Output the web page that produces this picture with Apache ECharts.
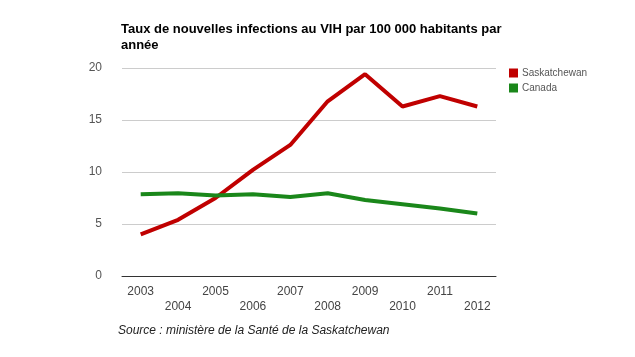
<!DOCTYPE html>
<html>
<head>
<meta charset="utf-8">
<script src="https://cdn.jsdelivr.net/npm/echarts@6/dist/echarts.min.js"></script>
<style>html,body{margin:0;padding:0;background:#fff;}#c{width:635px;height:357px;}</style>
</head>
<body>
<div id="c"></div>
<script>
const years = ['2003','2004','2005','2006','2007','2008','2009','2010','2011','2012'];
const saskatchewan = [4.0, 5.4, 7.5, 10.2, 12.6, 16.8, 19.4, 16.3, 17.3, 16.3];
const canada = [7.85, 7.95, 7.75, 7.85, 7.6, 7.95, 7.3, 6.9, 6.5, 6.0];
const yTicks = [0, 5, 10, 15, 20];
const titleText = 'Taux de nouvelles infections au VIH par 100 000 habitants par\nannée';
const sourceText = 'Source : ministère de la Santé de la Saskatchewan';

const chart = echarts.init(document.getElementById('c'), null, {renderer: 'canvas'});
chart.setOption({
  animation: false,
  backgroundColor: '#fff',
  textStyle: {fontFamily: 'Liberation Sans, Arial, sans-serif'},
  title: {
    text: titleText,
    left: 121, top: 21, padding: 0,
    textStyle: {fontSize: 13, fontWeight: 'bold', color: '#000', lineHeight: 16, fontFamily: 'Liberation Sans, Arial, sans-serif'}
  },
  legend: {
    orient: 'vertical',
    left: 509, top: 67, padding: 0,
    itemWidth: 9, itemHeight: 9, itemGap: 3,
    icon: 'rect',
    textStyle: {fontSize: 10, color: '#555', lineHeight: 12, padding: [0,0,0,-1]},
    data: ['Saskatchewan', 'Canada']
  },
  grid: {left: 122, width: 374, top: 68, bottom: 81, containLabel: false},
  xAxis: {
    type: 'category',
    data: years,
    boundaryGap: true,
    axisLine: {lineStyle: {color: '#333', width: 1}},
    axisTick: {show: false},
    axisLabel: {
      interval: 0, margin: 8, fontSize: 12, color: '#444', lineHeight: 15, verticalAlign: 'top',
      formatter: (v, i) => (i % 2 === 1 ? '\n' + v : v)
    }
  },
  yAxis: {
    type: 'value',
    min: yTicks[0], max: yTicks[yTicks.length - 1], interval: 5,
    axisLine: {show: false},
    axisTick: {show: false},
    axisLabel: {margin: 20, fontSize: 12, color: '#555'},
    splitLine: {lineStyle: {color: '#ccc', width: 1}}
  },
  series: [
    {name: 'Saskatchewan', type: 'line', data: saskatchewan, symbol: 'none',
     lineStyle: {color: '#c00000', width: 4}, itemStyle: {color: '#c00000'}},
    {name: 'Canada', type: 'line', data: canada, symbol: 'none',
     lineStyle: {color: '#1a871a', width: 4}, itemStyle: {color: '#1a871a'}}
  ],
  graphic: [{
    type: 'text', left: 118, top: 325,
    style: {text: sourceText, font: 'italic 12px "Liberation Sans", Arial, sans-serif', fill: '#222'}
  }]
});
</script>
</body>
</html>
